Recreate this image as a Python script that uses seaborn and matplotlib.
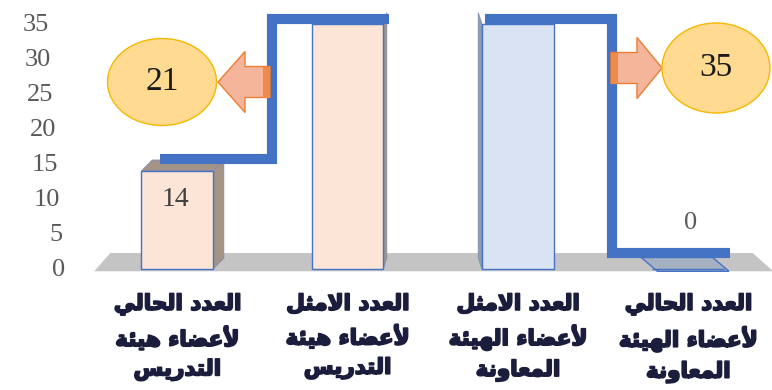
import matplotlib
matplotlib.use("Agg")
import matplotlib.pyplot as plt
import matplotlib.transforms as mtransforms
import matplotlib.patheffects as pe
from matplotlib.patches import Polygon, Ellipse
import seaborn as sns
import pandas as pd

# ---------------- data ----------------
categories = [
    "العدد الحالي\nلأعضاء هيئة\nالتدريس",
    "العدد الامثل\nلأعضاء هيئة\nالتدريس",
    "العدد الامثل\nلأعضاء الهيئة\nالمعاونة",
    "العدد الحالي\nلأعضاء الهيئة\nالمعاونة",
]
values = [14, 35, 35, 0]
bar_colors = ["#fce4d6", "#fce4d6", "#dae3f3", "#dae3f3"]
side_colors = ["#a39487", "#a39487", "#8f9cb5", "#a5b0c2"]
y_ticks = [0, 5, 10, 15, 20, 25, 30, 35]
groups = [(0, 1), (2, 3)]          # (current, optimal) index pairs
value_labels = {0: "14", 2: "35", 3: "0"}

# ------------- minimal Arabic shaping (presentation forms) -------------
_letters = [
    ("ء", 0xFE80, 1), ("آ", 0xFE81, 2), ("أ", 0xFE83, 2), ("ؤ", 0xFE85, 2),
    ("إ", 0xFE87, 2), ("ئ", 0xFE89, 4), ("ا", 0xFE8D, 2), ("ب", 0xFE8F, 4),
    ("ة", 0xFE93, 2), ("ت", 0xFE95, 4), ("ث", 0xFE99, 4), ("ج", 0xFE9D, 4),
    ("ح", 0xFEA1, 4), ("خ", 0xFEA5, 4), ("د", 0xFEA9, 2), ("ذ", 0xFEAB, 2),
    ("ر", 0xFEAD, 2), ("ز", 0xFEAF, 2), ("س", 0xFEB1, 4), ("ش", 0xFEB5, 4),
    ("ص", 0xFEB9, 4), ("ض", 0xFEBD, 4), ("ط", 0xFEC1, 4), ("ظ", 0xFEC5, 4),
    ("ع", 0xFEC9, 4), ("غ", 0xFECD, 4), ("ف", 0xFED1, 4), ("ق", 0xFED5, 4),
    ("ك", 0xFED9, 4), ("ل", 0xFEDD, 4), ("م", 0xFEE1, 4), ("ن", 0xFEE5, 4),
    ("ه", 0xFEE9, 4), ("و", 0xFEED, 2), ("ى", 0xFEEF, 2), ("ي", 0xFEF1, 4),
]
_forms = {ch: ([chr(base + k) for k in range(n)] + [None] * (4 - n), n)
          for ch, base, n in _letters}
_lamalef = {"آ": 0xFEF5, "أ": 0xFEF7, "إ": 0xFEF9, "ا": 0xFEFB}


def shape_line(line):
    units = []
    i = 0
    while i < len(line):
        ch = line[i]
        if ch == "ل" and i + 1 < len(line) and line[i + 1] in _lamalef:
            b = _lamalef[line[i + 1]]
            units.append(([chr(b), chr(b + 1), None, None], 2))
            i += 2
        elif ch in _forms:
            units.append(_forms[ch])
            i += 1
        else:
            units.append(([ch, None, None, None], 0))
            i += 1
    out = []
    for k, (forms, n) in enumerate(units):
        jp = k > 0 and units[k - 1][1] == 4 and n >= 2
        jn = n == 4 and k + 1 < len(units) and units[k + 1][1] >= 2
        if jp and jn:
            g = forms[3]
        elif jp:
            g = forms[1]
        elif jn:
            g = forms[2]
        else:
            g = forms[0]
        out.append(g)
    return "".join(reversed(out))


def shape_ar(text):
    return "\n".join(shape_line(l) for l in text.split("\n"))


# ---------------- figure ----------------
sns.set_theme(style="white")
plt.rcParams["font.family"] = ["DejaVu Sans"]

W, H = 772, 390
fig = plt.figure(figsize=(W / 100, H / 100), dpi=100)
ax = fig.add_axes([92 / W, (H - 279) / H, (W - 92) / W, 270 / H])


def fpx(x, y):
    return (x / W, 1 - y / H)


df = pd.DataFrame({"cat": categories, "val": values})
sns.barplot(data=df, x="cat", y="val", hue="cat", palette=bar_colors,
            legend=False, width=0.42, edgecolor="#4472c4", linewidth=1.0,
            saturation=1, ax=ax, zorder=3)

ax.set_xlim(-0.5, 3.493)
ax.set_ylim(-1.4, 37.1)
for s in ax.spines.values():
    s.set_visible(False)
ax.grid(False)
ax.set_xlabel("")
ax.set_ylabel("")

# pixels per data unit
ppx = (W - 92) / 4.0
ppy = 270 / 38.5

# floor
floor = Polygon([(-0.487, -0.3), (3.50, -0.3), (3.38, 2.3), (-0.393, 2.3)],
                closed=True, fc="#c4c4c4", ec="none", zorder=0)
ax.add_patch(floor)

# 3D sides and tops of bars
bw = 0.42
vmax = max(values)
for i, (v, sc) in enumerate(zip(values, side_colors)):
    cpx = 92 + ppx * (i + 0.5)
    dxp = -0.043 * (cpx - 430)
    dyp = 11
    dx, dy = dxp / ppx, dyp / ppy
    x0, x1 = i - bw / 2, i + bw / 2
    if v > 0:
        if dxp > 0:
            side = [(x1, 0), (x1 + dx, dy), (x1 + dx, v + dy), (x1, v)]
        else:
            side = [(x0, 0), (x0 + dx, dy), (x0 + dx, v + dy), (x0, v)]
        ax.add_patch(Polygon(side, closed=True, fc=sc, ec="#7f8fb0",
                             lw=0.6, zorder=2))
        if v < vmax:
            top = [(x0, v), (x1, v), (x1 + dx, v + dy), (x0 + dx, v + dy)]
            ax.add_patch(Polygon(top, closed=True, fc=sc, ec="#7f8fb0",
                                 lw=0.6, zorder=2))
    else:
        top = [(x0 + 0.03, -0.3), (x1 + 0.03, -0.3),
               (x1 + dx, v + dy + 0.1), (x0 + dx, v + dy + 0.1)]
        ax.add_patch(Polygon(top, closed=True, fc=sc, ec="#4472c4",
                             lw=1.0, zorder=2))

# step lines, drawn on the (perspective-shrunk) back wall
back = mtransforms.Affine2D().scale(1, 0.953).translate(0, 2.35) + ax.transData
start_off = [-0.10, -0.19]
for (a, b), so in zip(groups, start_off):
    xs = [a + so, a + 0.555, a + 0.555, b + 0.245]
    ys = [values[a], values[a], values[b], values[b]]
    ax.plot(xs, ys, color="#4472c4", lw=7.3, solid_capstyle="butt",
            solid_joinstyle="miter", zorder=6, transform=back)

# value labels
serif = ["Liberation Serif", "DejaVu Serif"]
for i, txt in value_labels.items():
    v = values[i]
    if v == 0:
        ax.annotate(txt, (i, v), xytext=(3, 46), textcoords="offset pixels",
                    ha="center", va="center", fontsize=19,
                    family=serif, color="#595959", zorder=7)
    elif v < 20:
        ax.annotate(txt, (i, v), xytext=(-2, -28), textcoords="offset pixels",
                    ha="center", va="center", fontsize=20,
                    family=serif, color="#404040", zorder=7)
    else:
        ax.annotate(txt, (i, v), xytext=(-3, 22), textcoords="offset pixels",
                    ha="center", va="bottom", fontsize=20,
                    family=serif, color="#404040", zorder=7,
                    annotation_clip=False)

# y ticks (slanted like the 3D wall)
ax.set_yticks(y_ticks)
ax.set_yticklabels([str(t) for t in y_ticks], family=serif, fontsize=19,
                   color="#595959")
ax.tick_params(axis="y", length=0, pad=19.5)
for t, lab in zip(y_ticks, ax.get_yticklabels()):
    off = mtransforms.ScaledTranslation(-t * 0.457 / 100, 1.5 / 100,
                                        fig.dpi_scale_trans)
    lab.set_transform(lab.get_transform() + off)

# x tick labels (Arabic, shaped, heavy)
ax.set_xticks(range(len(categories)))
ax.set_xticklabels([shape_ar(c) for c in categories], fontsize=15.5,
                   fontweight="bold", color="#1b1d3d", linespacing=1.48,
                   family=["DejaVu Sans"])
for lab in ax.get_xticklabels():
    lab.set_path_effects([pe.withStroke(linewidth=1.3, foreground="#1b1d3d")])
ax.tick_params(axis="x", length=0, pad=10)

# gap callouts: ellipses + arrows
gaps = [abs(values[b] - values[a]) for a, b in groups]
callouts = [
    dict(c=(162, 82), s=(109, 87), tail=270, tip=218, hb=245, y=82),
    dict(c=(716, 68), s=(108, 90), tail=611, tip=662, hb=637, y=68),
]
for g, co in zip(gaps, callouts):
    cx, cy = fpx(*co["c"])
    e = Ellipse((cx, cy), co["s"][0] / W, co["s"][1] / H,
                transform=fig.transFigure, fc="#ffda90", ec="#f5b800",
                lw=1.0, zorder=10)
    fig.patches.append(e)
    fig.text(cx, cy, str(g), ha="center", va="center", fontsize=24,
             family=serif, color="#1a1a1a", zorder=11)
    y = co["y"]
    tail, tip, hb = co["tail"], co["tip"], co["hb"]
    pts = [(tail, y - 15.5), (hb, y - 15.5), (hb, y - 30.5), (tip, y),
           (hb, y + 30.5), (hb, y + 15.5), (tail, y + 15.5)]
    arrow = Polygon([fpx(*p) for p in pts], closed=True,
                    transform=fig.transFigure, fc="#f4b59a", ec="#ed7d31",
                    lw=1.0, zorder=9)
    fig.patches.append(arrow)
    sgn = 1 if tail > tip else -1
    band = [(tail, y - 15.5), (tail - sgn * 7, y - 15.5),
            (tail - sgn * 7, y + 15.5), (tail, y + 15.5)]
    fig.patches.append(Polygon([fpx(*p) for p in band], closed=True,
                               transform=fig.transFigure, fc="#ef8a4a",
                               ec="none", zorder=9))

fig.savefig("out.png", dpi=100)
